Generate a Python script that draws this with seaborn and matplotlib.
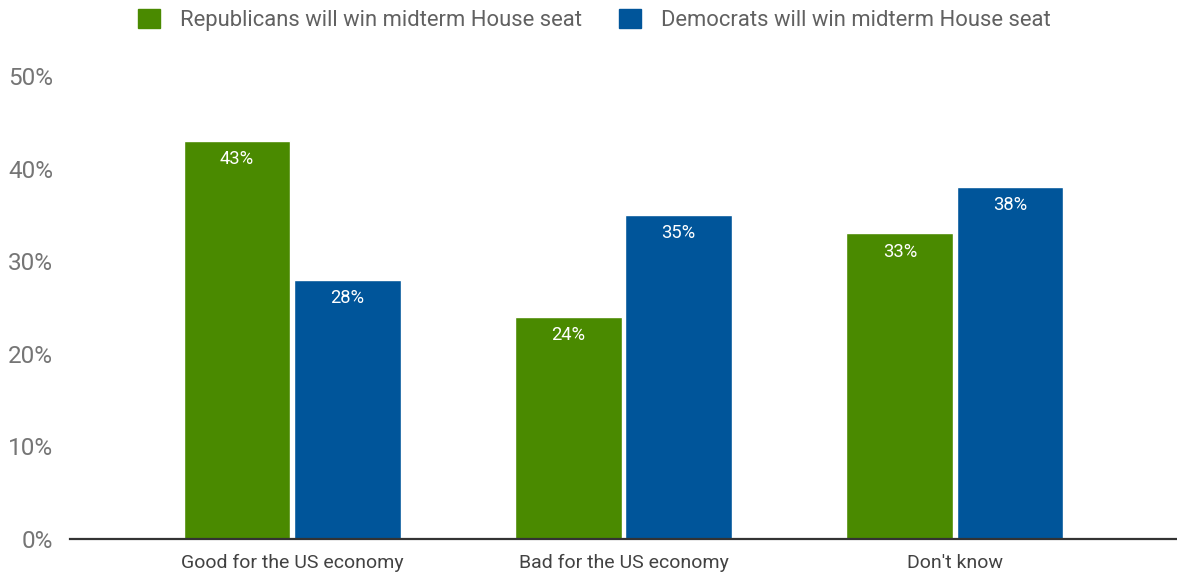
import matplotlib
matplotlib.use("Agg")
import matplotlib.pyplot as plt
from matplotlib.patches import Patch
import seaborn as sns
import pandas as pd

categories = ["Good for the US economy", "Bad for the US economy", "Don't know"]
series_names = ["Republicans will win midterm House seat", "Democrats will win midterm House seat"]
republicans = [43, 24, 33]
democrats = [28, 35, 38]
y_ticks = [0, 10, 20, 30, 40, 50]

colors = ["#4a8a00", "#00559a"]

df = pd.DataFrame({
    "category": categories * 2,
    "series": [series_names[0]] * 3 + [series_names[1]] * 3,
    "value": republicans + democrats,
})

sns.set_theme(style="white")
plt.rcParams["font.family"] = ["Roboto", "DejaVu Sans"]

fig = plt.figure(figsize=(11.77, 5.73), dpi=100)
ax = fig.add_axes([70 / 1177, 1 - 539 / 573, 1 - 70 / 1177, (539 - 76) / 573])

sns.barplot(data=df, x="category", y="value", hue="series", order=categories,
            hue_order=series_names, palette=colors, width=0.665, gap=0.03,
            saturation=1, ax=ax, legend=False)

for cont in ax.containers:
    ax.bar_label(cont, labels=[f"{v:.0f}%" for v in cont.datavalues],
                 padding=-19.5, color="white", fontsize=13.2)

ax.set_ylim(0, 50)
ax.set_xlim(-0.67, 2.67)
ax.set_yticks(y_ticks)
ax.set_yticklabels([f"{t}%" for t in y_ticks], color="#757575", fontsize=17.5)
ax.tick_params(axis="y", length=0, pad=12)
ax.tick_params(axis="x", length=0, pad=11, labelsize=14, labelcolor="#424242")
ax.set_xlabel("")
ax.set_ylabel("")
for s in ["top", "right", "left"]:
    ax.spines[s].set_visible(False)
ax.spines["bottom"].set_color("#333333")
ax.spines["bottom"].set_linewidth(1.6)
ax.grid(False)

handles = [Patch(facecolor=c, edgecolor=c) for c in colors]
fig.legend(handles, series_names, loc="center", bbox_to_anchor=(0.505, 1 - 20 / 573),
           ncol=2, frameon=False, fontsize=15.8, labelcolor="#616161",
           handlelength=1.0, handleheight=1.0, handletextpad=0.9, columnspacing=1.7)

fig.savefig("out.png", dpi=100)
